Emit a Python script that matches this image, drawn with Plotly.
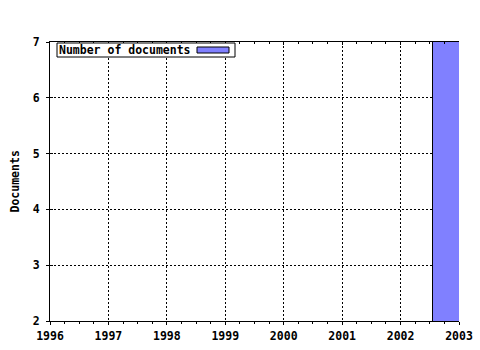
import plotly.graph_objects as go

years = [2003]
documents = [7]
series_name = "Number of documents"
x_ticks = [1996, 1997, 1998, 1999, 2000, 2001, 2002, 2003]
y_ticks = [2, 3, 4, 5, 6, 7]

FONT = "DejaVu Sans Mono"
W, H = 480, 350
L, R, T, B = 50, 21, 42, 29
pw, ph = W - L - R, H - T - B

fig = go.Figure()
fig.add_trace(go.Bar(x=years, y=documents, width=0.9, name=series_name,
                     marker=dict(color="#8080ff", line=dict(color="black", width=1)),
                     showlegend=False))
# helper trace for mirrored axes
fig.add_trace(go.Scatter(x=[x_ticks[0]], y=[y_ticks[0]], xaxis="x2", yaxis="y2",
                         mode="markers", marker=dict(opacity=0), showlegend=False,
                         hoverinfo="skip"))

tickfont = dict(family=FONT, size=11.5, color="black", weight="bold")
grid = dict(showgrid=True, gridcolor="black", griddash="2px,2px", gridwidth=1)
fig.update_layout(
    width=W, height=H, autosize=False,
    margin=dict(l=L, r=R, t=T, b=B, pad=0, autoexpand=False),
    paper_bgcolor="white", plot_bgcolor="white",
    bargap=0,
    xaxis=dict(range=[x_ticks[0], x_ticks[-1]], tickmode="array", tickvals=x_ticks,
               ticks="outside", ticklen=3, tickcolor="black", showline=True,
               linecolor="black", linewidth=1, tickfont=tickfont, zeroline=False,
               automargin=False, ticklabelstandoff=1, **grid,
               minor=dict(dtick=0.25, ticks="outside", ticklen=2, tickcolor="black",
                          showgrid=False)),
    yaxis=dict(range=[y_ticks[0], y_ticks[-1]], tickmode="array", tickvals=y_ticks,
               ticks="outside", ticklen=3, tickcolor="black", showline=True,
               linecolor="black", linewidth=1, tickfont=tickfont, zeroline=False,
               automargin=False, ticklabelstandoff=4, **grid),
    xaxis2=dict(overlaying="x", side="top", matches="x", showticklabels=False,
                ticks="inside", ticklen=3, tickcolor="black", showline=True,
                linecolor="black", linewidth=1, showgrid=False, zeroline=False,
                automargin=False, tickmode="array", tickvals=x_ticks,
                minor=dict(dtick=0.25, ticks="inside", ticklen=2, tickcolor="black")),
    yaxis2=dict(overlaying="y", side="left", matches="y", showticklabels=False,
                ticks="inside", ticklen=3, tickcolor="black", showline=False,
                automargin=False, showgrid=False, zeroline=False,
                tickmode="array", tickvals=y_ticks),
)

# y axis title
fig.add_annotation(xref="paper", yref="paper", x=-(L - 14) / pw, y=0.5,
                   xanchor="center", yanchor="middle", textangle=-90,
                   text="Documents", showarrow=False,
                   font=dict(family=FONT, size=11.5, color="black", weight="bold"))

# legend box (text left, swatch right)
fig.add_shape(type="rect", xref="paper", yref="paper",
              x0=(57 - L) / pw, x1=(235 - L) / pw,
              y0=(H - B - 57) / ph, y1=(H - B - 43) / ph,
              fillcolor="white", line=dict(color="black", width=1))
fig.add_shape(type="rect", xref="paper", yref="paper",
              x0=(197 - L) / pw, x1=(229 - L) / pw,
              y0=(H - B - 53) / ph, y1=(H - B - 47) / ph,
              fillcolor="#8080ff", line=dict(color="black", width=1))
fig.add_annotation(xref="paper", yref="paper", x=(57 - L) / pw, y=(H - B - 50) / ph,
                   xanchor="left", yanchor="middle", align="left",
                   text=series_name, showarrow=False,
                   font=dict(family=FONT, size=11.5, color="black", weight="bold"))

fig.write_html("out.html")
